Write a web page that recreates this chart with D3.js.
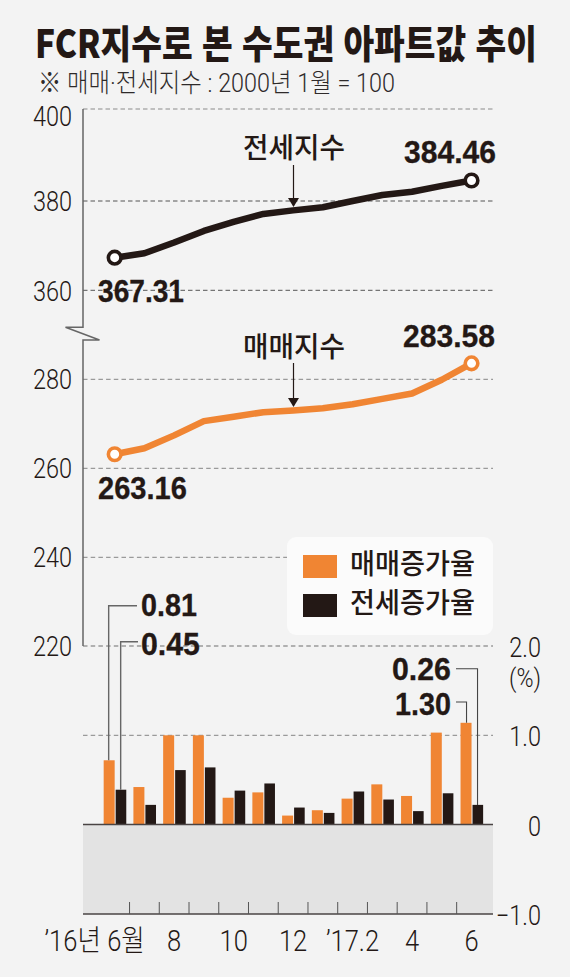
<!DOCTYPE html>
<html lang="ko">
<head>
<meta charset="utf-8">
<script src="https://cdn.jsdelivr.net/npm/d3@7/dist/d3.min.js"></script>
<style>
html,body{margin:0;padding:0;background:#f3f3f3;}
svg{display:block;}
text{font-family:"Liberation Sans","Noto Sans CJK KR",sans-serif;fill:#231815;}
.kr{font-family:"Noto Sans CJK KR",sans-serif;}
.lt{font-family:"Roboto","Noto Sans CJK KR",sans-serif;font-weight:300;}
</style>
</head>
<body>
<svg id="c" width="570" height="977"></svg>
<script>
const months = ["6","7","8","9","10","11","12","1","2","3","4","5","6b"];
const monthLabels = {"6":"’16년 6월","8":"8","10":"10","12":"12","2":"’17.2","4":"4","6b":"6"};
const jeonseIndex = [367.31,368.3,370.7,373.3,375.3,377.1,377.9,378.6,380.0,381.3,382.0,383.3,384.46];
const saleIndex = [263.16,264.5,267.4,270.6,271.6,272.6,273.0,273.5,274.4,275.6,276.8,279.9,283.58];
const saleRate = [0.72,0.42,1.00,1.00,0.30,0.36,0.10,0.16,0.29,0.45,0.32,1.03,1.14];
const jeonseRate = [0.39,0.22,0.61,0.64,0.38,0.46,0.19,0.13,0.37,0.28,0.15,0.35,0.22];
const upperTicks = [400,380,360];
const lowerTicks = [280,260,240,220];
const rateTicks = [2,1,0,-1];
const rateTickLabels = {"2":"2.0","1":"1.0","0":"0","-1":"−1.0"};

const ORANGE="#f08533", BLACK="#231815";
const svg=d3.select("#c");
const x=d3.scaleBand().domain(months).range([99.8,486.4]);
const cx=i=>x(months[i])+x.bandwidth()/2;
const yU=d3.scaleLinear().domain([400,380,360]).range([109,201,290.3]);
const yL=d3.scaleLinear().domain([280,260,240,220]).range([379.3,468.3,557.3,646]);
const yR=d3.scaleLinear().domain([2,1,0,-1]).range([646,735.3,824.5,914]);
const L=83,R=493;

// place a text so that its natural width is squeezed to len, by a horizontal scale
function fit(sel,x0,base,len){
  const n=sel.node().getComputedTextLength();
  sel.attr("transform",`translate(${x0},${base}) scale(${len/n},1)`);
  return sel;
}
function squeeze(sel,k){
  sel.each(function(){
    const t=d3.select(this), n=this.getComputedTextLength();
    t.attr("textLength",n*k).attr("lengthAdjust","spacingAndGlyphs");
  });
}

// title
fit(svg.append("text").attr("class","kr").attr("font-size",39).attr("font-weight",900)
  .text("FCR지수로 본 수도권 아파트값 추이"),35,58,502);
fit(svg.append("text").attr("class","lt").attr("font-size",26).style("fill","#2e2a2a")
  .text("※ 매매·전세지수 : 2000년 1월 = 100"),38,92,357);

// negative zone
svg.append("rect").attr("x",L).attr("width",R-L).attr("y",yR(0)).attr("height",yR(-1)-yR(0)).attr("fill","#e3e3e3");

// grid
function grid(ys,stroke,w,dash){
  svg.append("g").selectAll("line").data(ys).join("line")
    .attr("x1",L).attr("x2",R).attr("y1",d=>d).attr("y2",d=>d)
    .attr("stroke",stroke).attr("stroke-width",w).attr("stroke-dasharray",dash);
}
grid([yU(400)],"#8c8c8c",1.2,"4.5 3");
grid([yU(380),yU(360)],"#555",1,"4.5 3");
grid(lowerTicks.map(yL).concat([yR(1)]),"#9a9a9a",1.3,"4.5 3.2");

// legend
svg.append("rect").attr("x",287).attr("y",537).attr("width",206).attr("height",98).attr("rx",9).attr("fill","#fbfbfb");
[[ORANGE,"매매증가율",555,574],[BLACK,"전세증가율",594,613]].forEach(([c,t,ry,by])=>{
  svg.append("rect").attr("x",303).attr("y",ry).attr("width",34).attr("height",23).attr("fill",c);
  fit(svg.append("text").attr("class","kr").attr("font-size",28).attr("font-weight",500).text(t),350,by,125);
});

// y axis with break
svg.append("path").attr("fill","none").attr("stroke","#666").attr("stroke-width",1.5)
  .attr("d",d3.line()([[L,yU(400)],[L,327.3],[65.5,327.3],[99.5,340],[L,340],[L,yL(220)]]));

function styleAxis(g){g.attr("font-family",null).attr("font-size",null);g.select(".domain").remove();g.selectAll("line").remove();}
function tickText(g,size,k,dy){
  const t=g.selectAll("text").attr("class","lt").attr("font-size",size).attr("dy",dy);
  squeeze(t,k);
}
svg.append("g").attr("transform","translate(72,0)")
  .call(d3.axisLeft(yU).tickValues(upperTicks).tickSize(0).tickPadding(0)).call(styleAxis)
  .call(g=>tickText(g,27,0.87,d=>d===400?16.5:9.7));
svg.append("g").attr("transform","translate(72,0)")
  .call(d3.axisLeft(yL).tickValues(lowerTicks).tickSize(0).tickPadding(0)).call(styleAxis)
  .call(g=>tickText(g,27,0.87,9.5));
svg.append("g").attr("transform","translate(541,0)")
  .call(d3.axisRight(yR).tickValues(rateTicks).tickSize(0).tickPadding(0).tickFormat(d=>rateTickLabels[d])).call(styleAxis)
  .call(g=>{g.selectAll("text").attr("text-anchor","end");tickText(g,27,0.87,10.5);});
fit(svg.append("text").attr("class","lt").attr("font-size",25).text("(%)"),509,687,32);

// bars
svg.append("g").selectAll("rect").data(saleRate).join("rect")
  .attr("x",(d,i)=>cx(i)-11).attr("width",11).attr("y",d=>yR(d)).attr("height",d=>yR(0)-yR(d)).attr("fill",ORANGE);
svg.append("g").selectAll("rect").data(jeonseRate).join("rect")
  .attr("x",(d,i)=>cx(i)+1).attr("width",10.6).attr("y",d=>yR(d)).attr("height",d=>yR(0)-yR(d)).attr("fill",BLACK);

// baselines & ticks
[0,-1].forEach(v=>svg.append("line").attr("x1",L).attr("x2",R).attr("y1",yR(v)).attr("y2",yR(v)).attr("stroke","#4a4444").attr("stroke-width",1.6));
svg.append("g").selectAll("line").data(months.slice(1)).join("line")
  .attr("x1",d=>x(d)).attr("x2",d=>x(d)).attr("y1",yR(-1)-12).attr("y2",yR(-1))
  .attr("stroke","#555").attr("stroke-width",1);

// x axis labels
svg.append("g").attr("transform","translate(0,951)")
  .call(d3.axisBottom(x).tickValues(Object.keys(monthLabels)).tickSize(0).tickPadding(0).tickFormat(d=>monthLabels[d])).call(styleAxis)
  .call(g=>{
    g.selectAll("text").attr("y",0).attr("dy",0).attr("class","lt").attr("font-size",29);
    squeeze(g.selectAll("text"),0.88);
    g.selectAll("text").filter(d=>d==="6").attr("x",-20);
  });

// lines
const lineGen=y=>d3.line().x((d,i)=>cx(i)).y(d=>y(d));
function series(vals,y,color){
  svg.append("path").datum(vals).attr("fill","none").attr("stroke",color).attr("stroke-width",6.5)
    .attr("stroke-linejoin","round").attr("d",lineGen(y));
  svg.append("g").selectAll("circle").data([0,vals.length-1]).join("circle")
    .attr("cx",i=>cx(i)).attr("cy",i=>y(vals[i])).attr("r",6.3)
    .attr("fill","#fff").attr("stroke",color).attr("stroke-width",3.6);
}
series(jeonseIndex,yU,BLACK);
series(saleIndex,yL,ORANGE);

// value labels
function val(t,x0,base,len){
  fit(svg.append("text").attr("font-size",31).attr("font-weight",700).attr("stroke","#231815").attr("stroke-width",0.3).text(t),x0,base,len);
}
val("367.31",98,302,86);
val("384.46",404,163,92);
val("283.58",403,347,92);
val("263.16",98,499,89);
val("0.81",141,616,56);
val("0.45",141,655,59);
val("0.26",392,680,59);
val("1.30",395,715,56);

// series annotations
[["전세지수",158,165,207],["매매지수",357,363,407]].forEach(([t,by,y1,y2])=>{
  fit(svg.append("text").attr("class","kr").attr("font-size",28).attr("font-weight",500).text(t),243,by,102);
  svg.append("line").attr("x1",293.5).attr("x2",293.5).attr("y1",y1).attr("y2",y2-6).attr("stroke",BLACK).attr("stroke-width",1.2);
  svg.append("path").attr("fill",BLACK).attr("d",d3.line()([[288,y2-9],[299,y2-9],[293.5,y2]])+"Z");
});

// leaders
function leader(xb,yb,yTop,xEnd,c,w){
  svg.append("path").attr("fill","none").attr("stroke",c).attr("stroke-width",w)
    .attr("d",d3.line()([[xb,yb],[xb,yTop],[xEnd,yTop]]));
}
leader(cx(0)-6,yR(saleRate[0]),605.7,137,"#666",1.4);
leader(cx(0)+6,yR(jeonseRate[0]),641.7,138,"#666",1.4);
leader(cx(12)+6,yR(jeonseRate[12]),668.7,456,"#444",1.1);
leader(cx(12)-5,yR(saleRate[12]),702,456,"#444",1.1);
</script>
</body>
</html>
